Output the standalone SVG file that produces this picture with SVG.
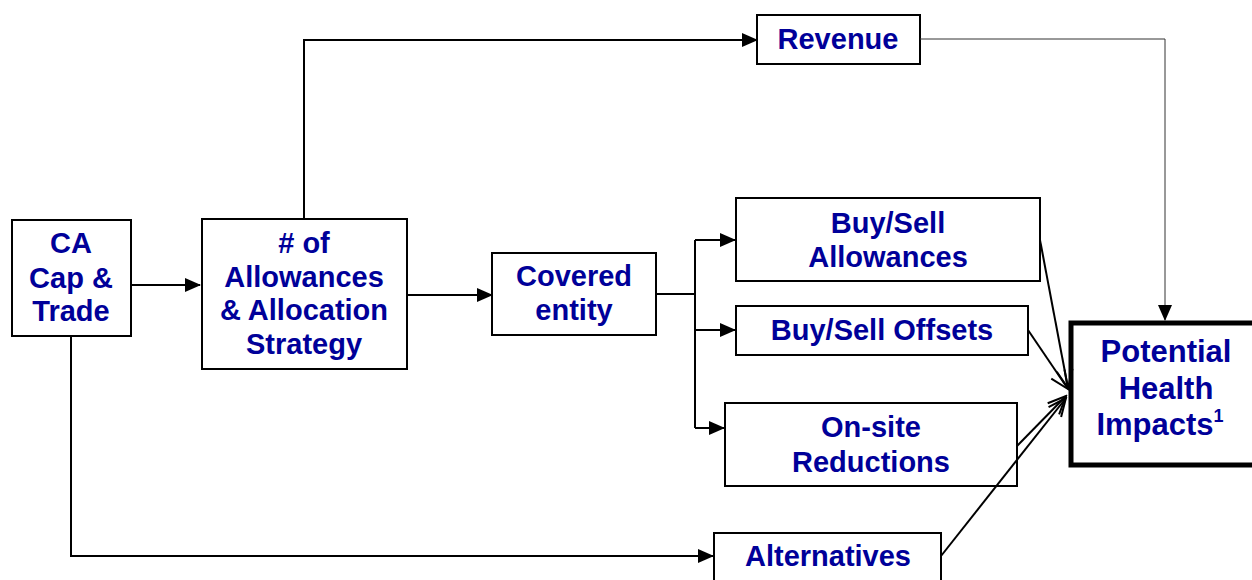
<svg xmlns="http://www.w3.org/2000/svg" width="1252" height="580" viewBox="0 0 1252 580">
<style>
.box{fill:#fff;stroke:#000;stroke-width:2}
.thick{fill:#fff;stroke:#000;stroke-width:5}
.t{font-family:"Liberation Sans",Arial,sans-serif;font-weight:bold;font-size:29px;fill:#000099;text-anchor:middle}
.big{font-size:31px}
.c{fill:none;stroke:#000;stroke-width:2}
.thin{fill:none;stroke:#333;stroke-width:1}
</style>
<defs>
<marker id="tri2" markerWidth="16" markerHeight="16" refX="15" refY="8" orient="auto" markerUnits="userSpaceOnUse">
<path d="M0,1 L16,8 L0,15 Z" fill="#000"/>
</marker>
<marker id="open" markerWidth="22" markerHeight="22" refX="20" refY="11" orient="auto" markerUnits="userSpaceOnUse">
<path d="M2,3 L20,11 L2,19" fill="none" stroke="#000" stroke-width="2"/>
</marker>
</defs>
<g id="ca">
<rect class="box" x="12" y="220" width="119" height="116"/>
<text class="t" x="71" y="253">CA</text>
<text class="t" x="71" y="288">Cap &amp;</text>
<text class="t" x="71" y="321">Trade</text>
</g>
<g id="allowances">
<rect class="box" x="202" y="219" width="205" height="150"/>
<text class="t" x="304" y="253"># of</text>
<text class="t" x="304" y="287">Allowances</text>
<text class="t" x="304" y="320">&amp; Allocation</text>
<text class="t" x="304" y="354">Strategy</text>
</g>
<g id="covered">
<rect class="box" x="492" y="253" width="164" height="82"/>
<text class="t" x="574" y="286">Covered</text>
<text class="t" x="574" y="320">entity</text>
</g>
<g id="revenue">
<rect class="box" x="757" y="15" width="163" height="49"/>
<text class="t" x="838" y="49">Revenue</text>
</g>
<g id="buysellallow">
<rect class="box" x="736" y="198" width="304" height="83"/>
<text class="t" x="888" y="233">Buy/Sell</text>
<text class="t" x="888" y="267">Allowances</text>
</g>
<g id="offsets">
<rect class="box" x="736" y="306" width="292" height="49"/>
<text class="t" x="882" y="340">Buy/Sell Offsets</text>
</g>
<g id="onsite">
<rect class="box" x="725" y="403" width="292" height="83"/>
<text class="t" x="871" y="437">On-site</text>
<text class="t" x="871" y="472">Reductions</text>
</g>
<g id="alternatives">
<rect class="box" x="714" y="533" width="227" height="60"/>
<text class="t" x="828" y="566">Alternatives</text>
</g>
<g id="health">
<rect class="thick" x="1071" y="323" width="200" height="142"/>
<text class="t big" x="1166" y="362">Potential</text>
<text class="t big" x="1166" y="399">Health</text>
<text class="t big" x="1160" y="435">Impacts<tspan font-size="18" dy="-13">1</tspan></text>
</g>
<g id="connectors">
<path class="c" d="M131,285 L200,285" marker-end="url(#tri2)"/>
<path class="c" d="M304,219 L304,40 L757,40" marker-end="url(#tri2)"/>
<path class="c" d="M71,336 L71,556 L713,556" marker-end="url(#tri2)"/>
<path class="c" d="M407,295 L492,295" marker-end="url(#tri2)"/>
<path class="c" d="M656,294 L695,294"/>
<path class="c" d="M695,240 L695,428"/>
<path class="c" d="M695,240 L735,240" marker-end="url(#tri2)"/>
<path class="c" d="M695,330 L735,330" marker-end="url(#tri2)"/>
<path class="c" d="M695,428 L724,428" marker-end="url(#tri2)"/>
<path class="thin" d="M920,39 L1165,39 L1165,320" marker-end="url(#tri2)"/>
<path class="c" d="M1040,240 L1068,388" marker-end="url(#open)"/>
<path class="c" d="M1028,330 L1068,389" marker-end="url(#open)"/>
<path class="c" d="M1017,446 L1066,396" marker-end="url(#open)"/>
<path class="c" d="M941,556 L1066,398" marker-end="url(#open)"/>
</g>
</svg>
